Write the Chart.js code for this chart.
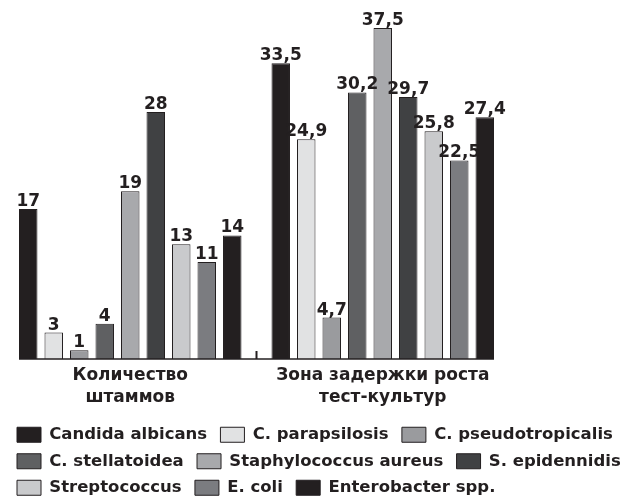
<!DOCTYPE html>
<html>
<head>
<meta charset="utf-8">
<script src="https://cdn.jsdelivr.net/npm/chart.js@4/dist/chart.umd.min.js"></script>
<style>
  html, body { margin: 0; padding: 0; background: #fff; }
  #wrap { width: 639px; height: 504px; }
</style>
</head>
<body>
<div id="wrap"><canvas id="chart"></canvas></div>
<script>
// groups on the x axis
const groupLabels = [["Количество", "штаммов"], ["Зона задержки роста", "тест-культур"]];

// organisms (one series each)
const organisms = ["Candida albicans", "C. parapsilosis", "C. pseudotropicalis",
    "C. stellatoidea", "Staphylococcus aureus", "S. epidennidis",
    "Streptococcus", "E. coli", "Enterobacter spp."];

// number of strains
const strainCounts = [17, 3, 1, 4, 19, 28, 13, 11, 14];
// growth inhibition zone of test cultures
const zoneValues = [33.5, 24.9, 4.7, 30.2, 37.5, 29.7, 25.8, 22.5, 27.4];

const barColors = ["#231f20", "#e1e2e3", "#9a9b9e", "#5f6062", "#a8a9ac",
    "#404143", "#c9cacc", "#7b7c80", "#231f20"];

const ink = "#231f20";
const fontName = '"DejaVu Sans", "Liberation Sans", sans-serif';

const datasets = organisms.map((name, i) => ({
    label: name,
    data: [strainCounts[i], zoneValues[i]],
    backgroundColor: barColors[i],
    borderColor: ink,
    borderWidth: 1,
    categoryPercentage: 0.909,
    barPercentage: 0.725
}));

// value labels, base line and the divider tick
const barExtras = {
    id: "barExtras",
    afterLayout(chart) {
        // nudge legend a bit to the right
        chart.legend.left += 3;
        chart.legend.right += 3;
    },
    afterDatasetsDraw(chart) {
        const ctx = chart.ctx;
        ctx.save();
        ctx.font = "bold 17px " + fontName;
        ctx.fillStyle = ink;
        ctx.textAlign = "center";
        ctx.textBaseline = "alphabetic";
        chart.data.datasets.forEach((ds, i) => {
            chart.getDatasetMeta(i).data.forEach((bar, j) => {
                const txt = String(ds.data[j]).replace(".", ",");
                ctx.fillText(txt, bar.x, bar.y - 3);
            });
        });

        const y0 = chart.scales.y.getPixelForValue(0);
        const first = chart.getDatasetMeta(0).data[0];
        const last = chart.getDatasetMeta(chart.data.datasets.length - 1).data[1];
        ctx.strokeStyle = ink;
        ctx.lineWidth = 1.5;
        ctx.beginPath();
        ctx.moveTo(first.x - first.width / 2, y0);
        ctx.lineTo(last.x + last.width / 2, y0);
        ctx.stroke();

        const xm = chart.scales.x.getPixelForValue(0.5);
        ctx.lineWidth = 2;
        ctx.beginPath();
        ctx.moveTo(xm, y0);
        ctx.lineTo(xm, y0 - 8);
        ctx.stroke();
        ctx.restore();
    }
};

new Chart(document.getElementById("chart"), {
    type: "bar",
    data: {
        labels: groupLabels,
        datasets: datasets
    },
    options: {
        responsive: true,
        maintainAspectRatio: false,
        animation: false,
        layout: { padding: { left: 4, right: 0, top: 6, bottom: -2 } },
        scales: {
            x: {
                grid: { display: false, drawTicks: false },
                border: { display: false },
                ticks: {
                    color: ink,
                    padding: 5,
                    font: { family: fontName, size: 17, weight: "bold", lineHeight: 1.33 }
                },
                afterFit(scale) { scale.height = 57.5; }
            },
            y: {
                display: false,
                min: 0,
                max: 40
            },
            spacer: {
                type: "linear",
                position: "right",
                display: true,
                grid: { display: false },
                border: { display: false },
                ticks: { display: false },
                afterFit(scale) { scale.width = 130; }
            }
        },
        plugins: {
            legend: {
                position: "bottom",
                align: "start",
                labels: {
                    color: ink,
                    boxWidth: 24,
                    boxHeight: 15,
                    padding: 10,
                    font: { family: fontName, size: 16.5, weight: "bold" },
                    generateLabels(chart) {
                        const items = Chart.defaults.plugins.legend.labels.generateLabels(chart);
                        items.forEach(it => { it.text = it.text + "\u2009"; });
                        return items;
                    }
                }
            },
            tooltip: { enabled: false }
        }
    },
    plugins: [barExtras]
});
</script>
</body>
</html>
